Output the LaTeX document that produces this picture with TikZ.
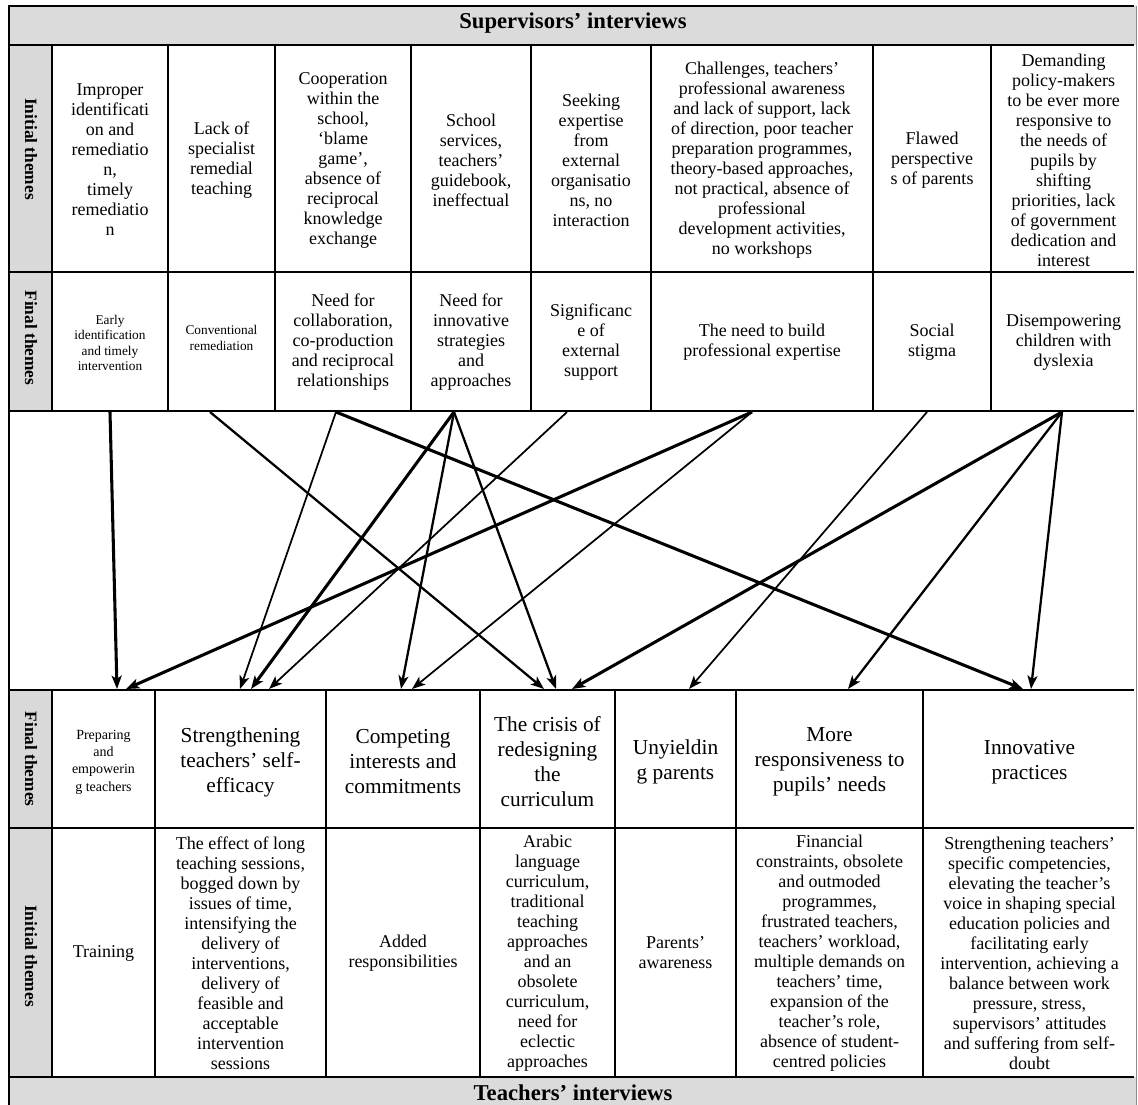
\documentclass[tikz,border=0pt]{standalone}
\usepackage{fontspec}
\setmainfont{Liberation Serif}
\usetikzlibrary{arrows.meta}
\begin{document}
\begin{tikzpicture}[x=0.75pt,y=-0.75pt,
  gridline/.style={line width=1.6pt},
  txt/.style={align=center,inner sep=0pt,font=\fontsize{13.5}{15}\selectfont},
  small/.style={align=center,inner sep=0pt,font=\fontsize{10}{11.5}\selectfont},
  smallb/.style={align=center,inner sep=0pt,font=\fontsize{10.5}{13}\selectfont},
  big/.style={align=center,inner sep=0pt,font=\fontsize{16}{18.75}\selectfont},
  lab/.style={inner sep=0pt,rotate=-90,font=\bfseries\fontsize{13}{15}\selectfont},
  head/.style={inner sep=0pt,font=\bfseries\fontsize{17}{20}\selectfont},
  conn/.style={-{Stealth[length=10pt,width=7.5pt,inset=2.5pt]}},
  athin/.style={conn,line width=1.3pt},
  amid/.style={conn,line width=1.7pt},
  athick/.style={conn,line width=2.3pt},
]
\useasboundingbox (0,0) rectangle (1138,1104);
\clip (0,0) rectangle (1138,1104);
% fills
\fill[black!14] (9,6) rectangle (1136,45);
\fill[black!14] (9,1077) rectangle (1136,1110);
\fill[black!15] (9,45) rectangle (52,411);
\fill[black!15] (9,690) rectangle (52,1077);
% frame and grid
\draw[line width=0.6pt,black!45] (1136,6) -- (1136,1110);
\draw[gridline] (1134,6) -- (9,6) -- (9,1110);
\foreach \y in {45,272,411,690,828,1077} \draw[gridline] (9,\y) -- (1134,\y);
\foreach \x in {52,168,275,411,531,651,873,991} \draw[gridline] (\x,45) -- (\x,411);
\foreach \x in {52,155,326,480,615,736,923} \draw[gridline] (\x,690) -- (\x,1077);

% header and footer
\node[head] (hsup) at (573,23) {Supervisors’ interviews};
\node[head] (hteach) at (573,1093) {Teachers’ interviews};

% side labels
\node[lab] (l1) at (31,149) {Initial themes};
\node[lab] (l2) at (31,338) {Final themes};
\node[lab] (l3) at (31,759) {Final themes};
\node[lab] (l4) at (31,956) {Initial themes};

% supervisors: initial themes
\node[txt] (si1) at (110,160) {Improper\\identificati\\on and\\remediatio\\n,\\timely\\remediatio\\n};
\node[txt] (si2) at (221.5,160) {Lack of\\specialist\\remedial\\teaching};
\node[txt] (si3) at (343,160) {Cooperation\\within the\\school,\\‘blame\\game’,\\absence of\\reciprocal\\knowledge\\exchange};
\node[txt] (si4) at (471,160) {School\\services,\\teachers’\\guidebook,\\ineffectual};
\node[txt] (si5) at (591,160) {Seeking\\expertise\\from\\external\\organisatio\\ns, no\\interaction};
\node[txt] (si6) at (762,160) {Challenges, teachers’\\professional awareness\\and lack of support, lack\\of direction, poor teacher\\preparation programmes,\\theory-based approaches,\\not practical, absence of\\professional\\development activities,\\no workshops};
\node[txt] (si7) at (932,160) {Flawed\\perspective\\s of parents};
\node[txt] (si8) at (1063.5,160) {Demanding\\policy-makers\\to be ever more\\responsive to\\the needs of\\pupils by\\shifting\\priorities, lack\\of government\\dedication and\\interest};

% supervisors: final themes
\node[small] (sf1) at (110,343) {Early\\identification\\and timely\\intervention};
\node[small] (sf2) at (221.5,338) {Conventional\\remediation};
\node[txt] (sf3) at (343,342) {Need for\\collaboration,\\co-production\\and reciprocal\\relationships};
\node[txt] (sf4) at (471,342) {Need for\\innovative\\strategies\\and\\approaches};
\node[txt] (sf5) at (591,342) {Significanc\\e of\\external\\support};
\node[txt] (sf6) at (762,342) {The need to build\\professional expertise};
\node[txt] (sf7) at (932,342) {Social\\stigma};
\node[txt] (sf8) at (1063.5,342) {Disempowering\\children with\\dyslexia};

% teachers: final themes
\node[smallb] (tf1) at (103.5,762) {Preparing\\and\\empowerin\\g teachers};
\node[big] (tf2) at (240.5,762) {Strengthening\\teachers’ self-\\efficacy};
\node[big] (tf3) at (403,762) {Competing\\interests and\\commitments};
\node[big] (tf4) at (547.5,762) {The crisis of\\redesigning\\the\\curriculum};
\node[big] (tf5) at (675.5,762) {Unyieldin\\g parents};
\node[big] (tf6) at (829.5,762) {More\\responsiveness to\\pupils’ needs};
\node[big] (tf7) at (1029.5,762) {Innovative\\practices};

% teachers: initial themes
\node[txt] (ti1) at (103.5,953) {Training};
\node[txt] (ti2) at (240.5,953) {The effect of long\\teaching sessions,\\bogged down by\\issues of time,\\intensifying the\\delivery of\\interventions,\\delivery of\\feasible and\\acceptable\\intervention\\sessions};
\node[txt] (ti3) at (403,953) {Added\\responsibilities};
\node[txt] (ti4) at (547.5,953) {Arabic\\language\\curriculum,\\traditional\\teaching\\approaches\\and an\\obsolete\\curriculum,\\need for\\eclectic\\approaches};
\node[txt] (ti5) at (675.5,953) {Parents’\\awareness};
\node[txt] (ti6) at (829.5,953) {Financial\\constraints, obsolete\\and outmoded\\programmes,\\frustrated teachers,\\teachers’ workload,\\multiple demands on\\teachers’ time,\\expansion of the\\teacher’s role,\\absence of student-\\centred policies};
\node[txt] (ti7) at (1029.5,953) {Strengthening teachers’\\specific competencies,\\elevating the teacher’s\\voice in shaping special\\education policies and\\facilitating early\\intervention, achieving a\\balance between work\\pressure, stress,\\supervisors’ attitudes\\and suffering from self-\\doubt};

% connector end points
\coordinate (s1) at (110,412);
\coordinate (s2) at (210,412);
\coordinate (s3) at (336,412);
\coordinate (s4) at (454,412);
\coordinate (s5) at (567,412);
\coordinate (s6) at (752,412);
\coordinate (s7) at (927,412);
\coordinate (s8) at (1062,412);
\coordinate (e1a) at (117,689);
\coordinate (e1b) at (126,689);
\coordinate (e2a) at (240,689);
\coordinate (e2b) at (251,689);
\coordinate (e2c) at (269,689);
\coordinate (e3a) at (401,689);
\coordinate (e3b) at (412,689);
\coordinate (e4a) at (544,689);
\coordinate (e4b) at (556,689);
\coordinate (e4c) at (572,689);
\coordinate (e5) at (689,689);
\coordinate (e6) at (848,689);
\coordinate (e7a) at (1023,689);
\coordinate (e7b) at (1031,689);

% connectors
\draw[athick] (s1) -- (e1a);
\draw[amid] (s2) -- (e4a);
\draw[athin] (s3) -- (e2a);
\draw[athick] (s3) -- (e7a);
\draw[athick] (s4) -- (e2b);
\draw[amid] (s4) -- (e3a);
\draw[amid] (s4) -- (e4b);
\draw[athin] (s5) -- (e2c);
\draw[athick] (s6) -- (e1b);
\draw[athin] (s6) -- (e3b);
\draw[athin] (s7) -- (e5);
\draw[athick] (s8) -- (e4c);
\draw[amid] (s8) -- (e6);
\draw[amid] (s8) -- (e7b);
\end{tikzpicture}
\end{document}
